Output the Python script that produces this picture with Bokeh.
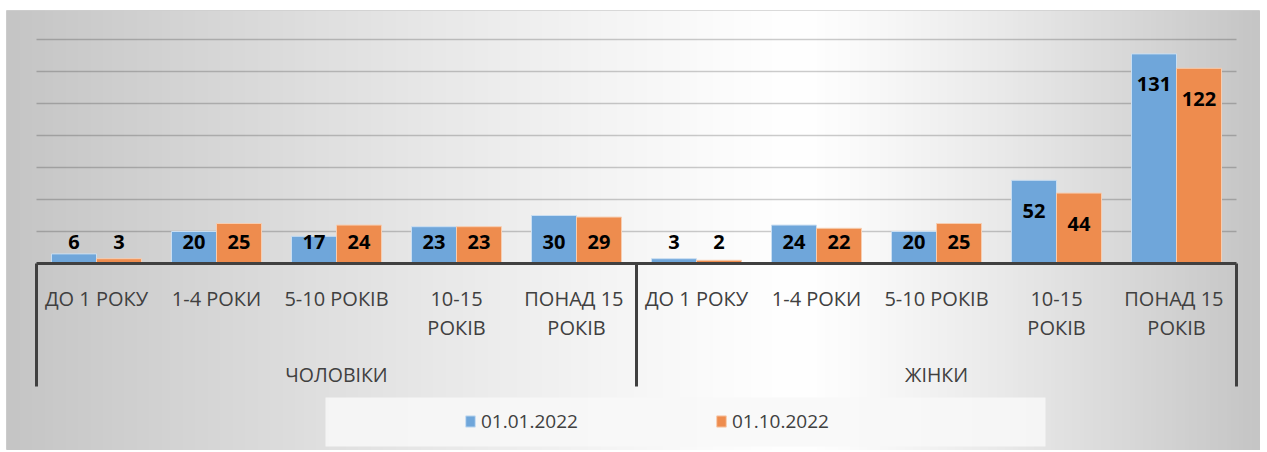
import numpy as np
from bokeh.plotting import figure
from bokeh.models import Range1d, ColumnDataSource, Legend, LegendItem, BoxAnnotation
from bokeh.core.properties import value
from bokeh.embed import file_html
from bokeh.resources import INLINE

# ---- data ----
groups = ["ЧОЛОВІКИ", "ЖІНКИ"]
subcats = ["ДО 1 РОКУ", "1-4 РОКИ", "5-10 РОКІВ", "10-15\nРОКІВ", "ПОНАД  15\nРОКІВ"]
series_names = ["01.01.2022", "01.10.2022"]
s_jan = [6, 20, 17, 23, 30, 3, 24, 20, 52, 131]
s_oct = [3, 25, 24, 23, 29, 2, 22, 25, 44, 122]
grid_values = [20, 40, 60, 80, 100, 120, 140]

# ---- layout helpers (pixel geometry of reference) ----
PX_UNIT = 120.0      # px per category
PY_UNIT = 1.6        # px per value unit
X0, Y0 = 36, 263     # pixel of (0, 0)
FL, FR, FT, FB = 6, 1260, 10, 450  # frame pixel box (page coords)


def dx(px):
    return (px - X0) / PX_UNIT


def dy(py):
    return (Y0 - py) / PY_UNIT


p = figure(width=FR, height=FB, output_backend="svg", toolbar_location=None,
           x_range=Range1d(dx(FL), dx(FR)), y_range=Range1d(dy(FB), dy(FT)),
           min_border_left=FL, min_border_right=0, min_border_top=FT, min_border_bottom=0)
p.xaxis.visible = False
p.yaxis.visible = False
p.xgrid.visible = False
p.ygrid.visible = False
p.border_fill_color = "white"
p.background_fill_color = "white"
p.outline_line_color = "#cfcfcf"
p.outline_line_width = 1

# ---- gradient background ----
gw, gh = 300, 20
xs = np.linspace(FL, FR, gw)
cx = 800.0
s = np.where(xs < cx, (cx - xs) / (cx - FL), (xs - cx) / (FR - cx))
v = 255 - 58 * np.clip(s, 0, 1) ** 1.2
img = np.zeros((gh, gw, 4), dtype=np.uint8)
img[:, :, 0] = v[None, :]
img[:, :, 1] = v[None, :]
img[:, :, 2] = v[None, :]
img[:, :, 3] = 255
img32 = img.view(dtype=np.uint32).reshape((gh, gw))
p.image_rgba(image=[img32], x=dx(FL), y=dy(FB), dw=dx(FR) - dx(FL), dh=dy(FT) - dy(FB))

# ---- gridlines ----
ncat = len(s_jan)
p.segment(x0=[0] * len(grid_values), x1=[ncat] * len(grid_values), y0=grid_values, y1=grid_values,
          line_color="#000000", line_alpha=0.2, line_width=1.5)

# ---- bars ----
idx = np.arange(ncat)
bw = 0.375
src = ColumnDataSource(dict(
    xj=idx + 0.5 - bw / 2, xo=idx + 0.5 + bw / 2,
    jan=s_jan, oct=s_oct,
    lj=[str(t) for t in s_jan], lo=[str(t) for t in s_oct],
    yj=np.maximum(np.array(s_jan) - 19, 13.2), yo=np.maximum(np.array(s_oct) - 19, 13.2),
))
rj = p.vbar(x="xj", top="jan", bottom=0, width=bw, source=src,
            fill_color="#6fa6da", line_color="#c9def2", line_width=1)
ro = p.vbar(x="xo", top="oct", bottom=0, width=bw, source=src,
            fill_color="#ee8c4e", line_color="#f7cdb0", line_width=1)

lbl_font = value("Open Sans")
p.text(x="xj", y="yj", text="lj", source=src, text_align="center", text_baseline="middle",
       text_font=lbl_font, text_font_style="bold", text_font_size="20px", text_color="black")
p.text(x="xo", y="yo", text="lo", source=src, text_align="center", text_baseline="middle",
       text_font=lbl_font, text_font_style="bold", text_font_size="20px", text_color="black")

# ---- category axis (two levels) ----
axis_col = "#404040"
p.segment(x0=[0], x1=[ncat], y0=[0], y1=[0], line_color=axis_col, line_width=3)
ng = len(groups)
per = len(subcats)
sep_x = [g * per for g in range(ng + 1)]
p.segment(x0=sep_x, x1=sep_x, y0=[0] * len(sep_x), y1=[dy(386)] * len(sep_x),
          line_color=axis_col, line_width=3)

line1, line2, lx = [], [], []
for g in range(ng):
    for k, sc in enumerate(subcats):
        parts = sc.split("\n")
        line1.append(parts[0])
        line2.append(parts[1] if len(parts) > 1 else "")
        lx.append(g * per + k + 0.5)
p.text(x=lx, y=[dy(298)] * len(lx), text=line1, text_align="center", text_baseline="middle",
       text_font=lbl_font, text_font_size="20px", text_color=axis_col)
p.text(x=lx, y=[dy(327)] * len(lx), text=line2, text_align="center", text_baseline="middle",
       text_font=lbl_font, text_font_size="20px", text_color=axis_col)
gx = [g * per + per / 2 for g in range(ng)]
p.text(x=gx, y=[dy(374)] * ng, text=groups, text_align="center", text_baseline="middle",
       text_font=lbl_font, text_font_size="19.5px", text_color=axis_col)

# ---- legend ----
p.add_layout(BoxAnnotation(left=dx(325), right=dx(1045), top=dy(397), bottom=dy(446),
                           fill_color="#f8f8f8", fill_alpha=0.85, line_alpha=0))
legend = Legend(items=[LegendItem(label=series_names[0], renderers=[rj]),
                       LegendItem(label=series_names[1], renderers=[ro])],
                orientation="horizontal", location=(464 - FL, 16),
                padding=0, margin=0, spacing=14, glyph_width=12, glyph_height=14,
                label_standoff=5, label_width=220, label_text_font="Open Sans",
                label_text_font_size="19px", label_text_color=axis_col,
                background_fill_alpha=0, border_line_alpha=0)
p.add_layout(legend, "center")

open("out.html", "w").write(file_html(p, INLINE))
